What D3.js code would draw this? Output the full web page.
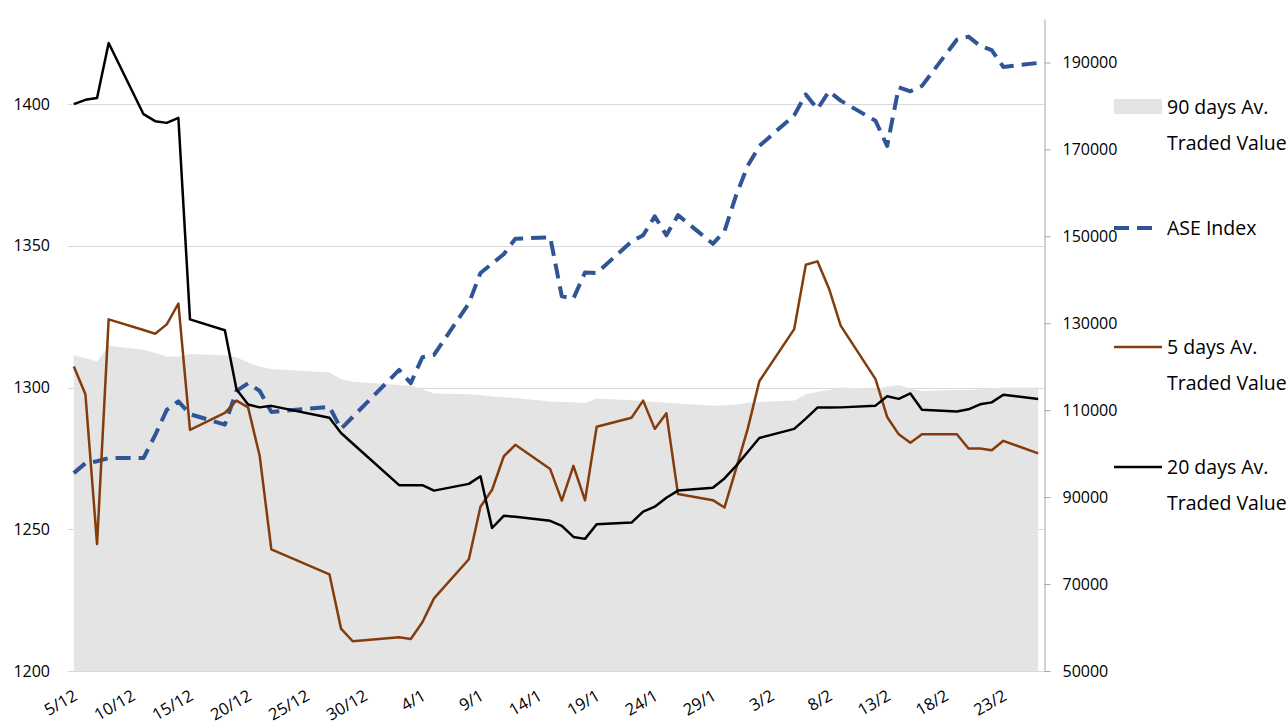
<!DOCTYPE html>
<html>
<head>
<meta charset="utf-8">
<script src="https://cdn.jsdelivr.net/npm/d3@7"></script>
<style>
  body { margin: 0; background: #fff; }
  svg { display: block; font-family: "Open Sans", sans-serif; }
</style>
</head>
<body>
<svg id="chart" width="1288" height="728"></svg>
<script>
// trading days shown on the chart
const dates = [
  "2017-12-05", "2017-12-06", "2017-12-07", "2017-12-08",
  "2017-12-11", "2017-12-12", "2017-12-13", "2017-12-14", "2017-12-15",
  "2017-12-18", "2017-12-19", "2017-12-20", "2017-12-21", "2017-12-22",
  "2017-12-27", "2017-12-28", "2017-12-29",
  "2018-01-02", "2018-01-03", "2018-01-04", "2018-01-05",
  "2018-01-08", "2018-01-09", "2018-01-10", "2018-01-11", "2018-01-12",
  "2018-01-15", "2018-01-16", "2018-01-17", "2018-01-18", "2018-01-19",
  "2018-01-22", "2018-01-23", "2018-01-24", "2018-01-25", "2018-01-26",
  "2018-01-29", "2018-01-30", "2018-01-31", "2018-02-01", "2018-02-02",
  "2018-02-05", "2018-02-06", "2018-02-07", "2018-02-08", "2018-02-09",
  "2018-02-12", "2018-02-13", "2018-02-14", "2018-02-15", "2018-02-16",
  "2018-02-19", "2018-02-20", "2018-02-21", "2018-02-22", "2018-02-23",
  "2018-02-26"
];

// ASE Index (left axis)
const aseIndex = [
  1269.8, 1273.3, 1274.0, 1275.1,
  1275.1, 1283.2, 1292.1, 1295.1, 1290.6,
  1286.9, 1298.8, 1301.5, 1298.8, 1291.4,
  1293.2, 1285.4, 1289.6,
  1306.2, 1301.5, 1310.7, 1311.5,
  1329.7, 1340.4, 1343.7, 1347.0, 1352.5,
  1353.0, 1332.2, 1331.4, 1340.6, 1340.4,
  1351.5, 1353.7, 1360.4, 1353.7, 1360.8,
  1350.7, 1355.2, 1367.8, 1378.2, 1385.2,
  1396.0, 1403.4, 1398.2, 1404.5, 1401.2,
  1394.1, 1385.2, 1405.9, 1404.5, 1406.4,
  1422.7, 1423.8, 1420.5, 1419.0, 1413.1,
  1414.5
];

// 5 days Av. Traded Value (right axis)
const avg5 = [
  120050, 113650, 79200, 130900,
  128450, 127600, 129750, 134550, 105450,
  109400, 112200, 110650, 99450, 78000,
  72250, 59750, 56850,
  57750, 57350, 61200, 66700,
  75700, 87800, 91700, 99350, 102050,
  96450, 89200, 97200, 89250, 106200,
  108250, 112200, 105700, 109300, 90700,
  89300, 87600, 96550, 105700, 116650,
  128650, 143450, 144250, 137950, 129450,
  117150, 108450, 104450, 102500, 104450,
  104450, 101200, 101200, 100800, 102950,
  100050
];

// 20 days Av. Traded Value (right axis)
const avg20 = [
  180400, 181400, 181800, 194480,
  178100, 176500, 176100, 177250, 130900,
  128400, 114800, 111300, 110650, 111000,
  108250, 104750, 102350,
  92750, 92750, 92750, 91500,
  93050, 94800, 82900, 85700, 85500,
  84550, 83400, 80850, 80400, 83750,
  84150, 86650, 87800, 89850, 91500,
  92150, 94300, 97200, 100400, 103600,
  105700, 108050, 110600, 110600, 110650,
  111050, 113200, 112600, 113850, 110100,
  109700, 110200, 111350, 111800, 113550,
  112600
];

// 90 days Av. Traded Value (right axis, area)
const avg90 = [
  122650, 121980, 121200, 124800,
  123900, 123150, 122380, 122380, 122950,
  122650, 122170, 121000, 120050, 119480,
  118700, 117150, 116550,
  115800, 115600, 114830, 113870,
  113650, 113470, 113170, 112990, 112780,
  112020, 111910, 111820, 111630, 112690,
  112300, 112110, 111910, 111720, 111520,
  111030, 111130, 111340, 111630, 111910,
  112210, 113650, 114230, 114620, 115200,
  114920, 115400, 115800, 114920, 114440,
  114620, 114730, 114830, 115020, 115200,
  115200
];

const xTicks = [
  "2017-12-05", "2017-12-10", "2017-12-15", "2017-12-20", "2017-12-25", "2017-12-30",
  "2018-01-04", "2018-01-09", "2018-01-14", "2018-01-19", "2018-01-24", "2018-01-29",
  "2018-02-03", "2018-02-08", "2018-02-13", "2018-02-18", "2018-02-23"
];
const leftTicks = [1200, 1250, 1300, 1350, 1400];
const rightTicks = [50000, 70000, 90000, 110000, 130000, 150000, 170000, 190000];

const plotLeft = 68, plotRight = 1044, plotTop = 19, plotBottom = 671;

const parse = d3.utcParse("%Y-%m-%d");
const fmt = d3.utcFormat("%-d/%-m");
const days = dates.map(parse);

// each day takes one slot, points sit in the middle of it
const x = d3.scaleUtc()
    .domain([d3.utcHour.offset(days[0], -12), d3.utcHour.offset(days[days.length - 1], 12)])
    .range([plotLeft, plotRight]);
const yL = d3.scaleLinear().domain([1200, 1430]).range([plotBottom, plotTop]);
const yR = d3.scaleLinear().domain([50000, 200000]).range([plotBottom, plotTop]);

const svg = d3.select("#chart");

// gridlines (left axis)
svg.append("g")
    .selectAll("line")
    .data(leftTicks)
    .join("line")
    .attr("x1", plotLeft).attr("x2", plotRight)
    .attr("y1", d => Math.round(yL(d)) + 0.5).attr("y2", d => Math.round(yL(d)) + 0.5)
    .attr("stroke", "#d9d9d9")
    .attr("stroke-width", 1);

// 90 days area
const area = d3.area()
    .x((d, i) => x(days[i]))
    .y0(yR(50000))
    .y1(d => yR(d));

svg.append("path")
    .datum(avg90)
    .attr("d", area)
    .attr("fill", "#e4e4e4");

// lines
const lineL = d3.line().x((d, i) => x(days[i])).y(d => yL(d));
const lineR = d3.line().x((d, i) => x(days[i])).y(d => yR(d));

svg.append("path")
    .datum(aseIndex)
    .attr("d", lineL)
    .attr("fill", "none")
    .attr("stroke", "#2f5597")
    .attr("stroke-width", 4)
    .attr("stroke-dasharray", "15,8")
    .attr("stroke-linejoin", "round");

svg.append("path")
    .datum(avg5)
    .attr("d", lineR)
    .attr("fill", "none")
    .attr("stroke", "#843c0c")
    .attr("stroke-width", 2.5)
    .attr("stroke-linejoin", "round");

svg.append("path")
    .datum(avg20)
    .attr("d", lineR)
    .attr("fill", "none")
    .attr("stroke", "#000")
    .attr("stroke-width", 2.5)
    .attr("stroke-linejoin", "round");

// left axis, labels only
const gL = svg.append("g")
    .attr("transform", `translate(${plotLeft},0)`)
    .call(d3.axisLeft(yL).tickValues(leftTicks).tickFormat(d3.format("d")).tickSize(0).tickPadding(18));
gL.select(".domain").remove();

// right axis
const gR = svg.append("g")
    .attr("transform", `translate(${plotRight + 0.5},0)`)
    .call(d3.axisRight(yR).tickValues(rightTicks).tickFormat(d3.format("d"))
        .tickSize(6).tickSizeOuter(0).tickPadding(12));
gR.select(".domain").attr("stroke", "#a6a6a6");
gR.selectAll(".tick line").attr("stroke", "#a6a6a6");

svg.selectAll(".tick text")
    .attr("fill", "#000")
    .style("font-family", "'Open Sans', sans-serif")
    .style("font-size", "16px");

// bottom axis, rotated labels
const gB = svg.append("g")
    .attr("transform", `translate(0,${plotBottom})`)
    .call(d3.axisBottom(x).tickValues(xTicks.map(parse)).tickFormat(fmt).tickSize(0));
gB.select(".domain").remove();
gB.selectAll(".tick text")
    .attr("x", 0).attr("y", 0).attr("dy", 0)
    .attr("fill", "#000")
    .attr("text-anchor", "end")
    .style("font-family", "'Open Sans', sans-serif")
    .style("font-size", "16.5px")
    .attr("transform", "translate(4,28) rotate(-30)");

// legend
const legendX = 1114, textX = 1167;
const legendLabels = [
  ["90 days Av.", "Traded Value"],
  ["ASE Index"],
  ["5 days Av.", "Traded Value"],
  ["20 days Av.", "Traded Value"]
];
const legendY = [107, 228, 347, 467];

const leg = svg.append("g").style("font-size", "19.5px").attr("fill", "#000");

leg.append("rect")
    .attr("x", legendX).attr("y", legendY[0] - 8)
    .attr("width", 48).attr("height", 15)
    .attr("fill", "#e4e4e4");
leg.append("line")
    .attr("x1", legendX).attr("x2", legendX + 46)
    .attr("y1", legendY[1]).attr("y2", legendY[1])
    .attr("stroke", "#2f5597").attr("stroke-width", 4)
    .attr("stroke-dasharray", "15,8");
leg.append("line")
    .attr("x1", legendX).attr("x2", legendX + 48)
    .attr("y1", legendY[2]).attr("y2", legendY[2])
    .attr("stroke", "#843c0c").attr("stroke-width", 2.5);
leg.append("line")
    .attr("x1", legendX).attr("x2", legendX + 48)
    .attr("y1", legendY[3]).attr("y2", legendY[3])
    .attr("stroke", "#000").attr("stroke-width", 2.5);

legendLabels.forEach((lines, k) => {
  lines.forEach((t, j) => {
    leg.append("text")
        .attr("x", textX)
        .attr("y", legendY[k] + j * 36)
        .attr("dy", "0.35em")
        .text(t);
  });
});
</script>
</body>
</html>
